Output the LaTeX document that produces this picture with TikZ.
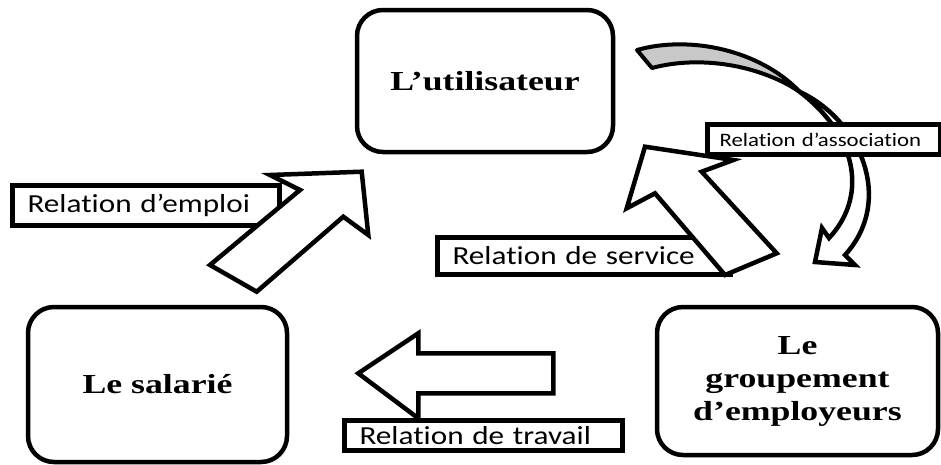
\documentclass[tikz,border=0pt]{standalone}
\usepackage{fontspec}
\usepackage{xcolor}
\setmainfont[FakeStretch=1.3]{Liberation Serif}
\newfontfamily\relfont[FakeStretch=1.2, Ligatures=NoCommon]{Carlito}
\definecolor{ribbongray}{RGB}{200, 200, 200}
\tikzset{
    actor/.style={draw, fill=white, line width=4.5pt, rounded corners=26pt, align=center,
        font=\bfseries\fontsize{27.5}{33}\selectfont},
    relbox/.style={draw, fill=white, line width=5pt, anchor=north west, inner ysep=0pt,
        inner xsep=15pt, align=left, font=\relfont\fontsize{26}{30}\selectfont},
    blockarrow/.style={draw, fill=white, line width=4.5pt, line join=miter, miter limit=10}
}

\begin{document}
\begin{tikzpicture}[x=1pt, y=-1pt]
    \useasboundingbox (0,0) rectangle (941,464);

    % The three parties
    \node[actor, minimum width=256pt, minimum height=142pt] (user) at (485,81) {L’utilisateur};
    \node[actor, minimum width=259pt, minimum height=155pt] (employee) at (157.5,384.5) {Le salarié};
    \node[actor, minimum width=281pt, minimum height=148pt] (group) at (797.5,381) {Le\\groupement\\d’employeurs};

    % Curved arrow, twisted ribbon
    \draw[line width=4pt, fill=ribbongray, line join=round] (637,50) .. controls (690,35) and (760,50) .. (800,92)
        .. controls (760,65) and (700,55) .. (652,68) -- cycle;
    \draw[blockarrow] (800,92) .. controls (860,120) and (895,200) .. (845,255) -- (855,265) -- (815,262)
        -- (822,228) -- (829,238) .. controls (865,200) and (862,140) .. (800,92) -- cycle;

    % Relation labels
    \node[relbox, font=\relfont\fontsize{19}{22}\selectfont, text width=209pt, minimum height=30pt,
        inner xsep=12pt] (assoc) at (705,122) {Relation d’association};
    \node[relbox, text width=237pt, minimum height=40pt] (emploi) at (10,183) {Relation d’emploi};
    \node[relbox, text width=263pt, minimum height=37pt] (service) at (435,235) {Relation de service};
    \node[relbox, text width=248pt, minimum height=30pt] (travail) at (342,418) {Relation de travail};

    % Block arrows
    \draw[blockarrow] (361.7,171.7) -- (368.3,235) -- (343.3,216.7) -- (256.7,291.7) -- (210,265)
        -- (300,190) -- (270,175) -- cycle;
    \draw[blockarrow] (645,146.7) -- (733.3,160) -- (701.7,171.7) -- (776.7,253.3) -- (725,275)
        -- (655,193.3) -- (626.7,208.3) -- cycle;
    \draw[blockarrow] (358.3,373.3) -- (418.3,333.3) -- (418.3,353.3) -- (553.3,353.3) -- (553.3,393.3)
        -- (418.3,393.3) -- (418.3,418.3) -- cycle;
\end{tikzpicture}
\end{document}
